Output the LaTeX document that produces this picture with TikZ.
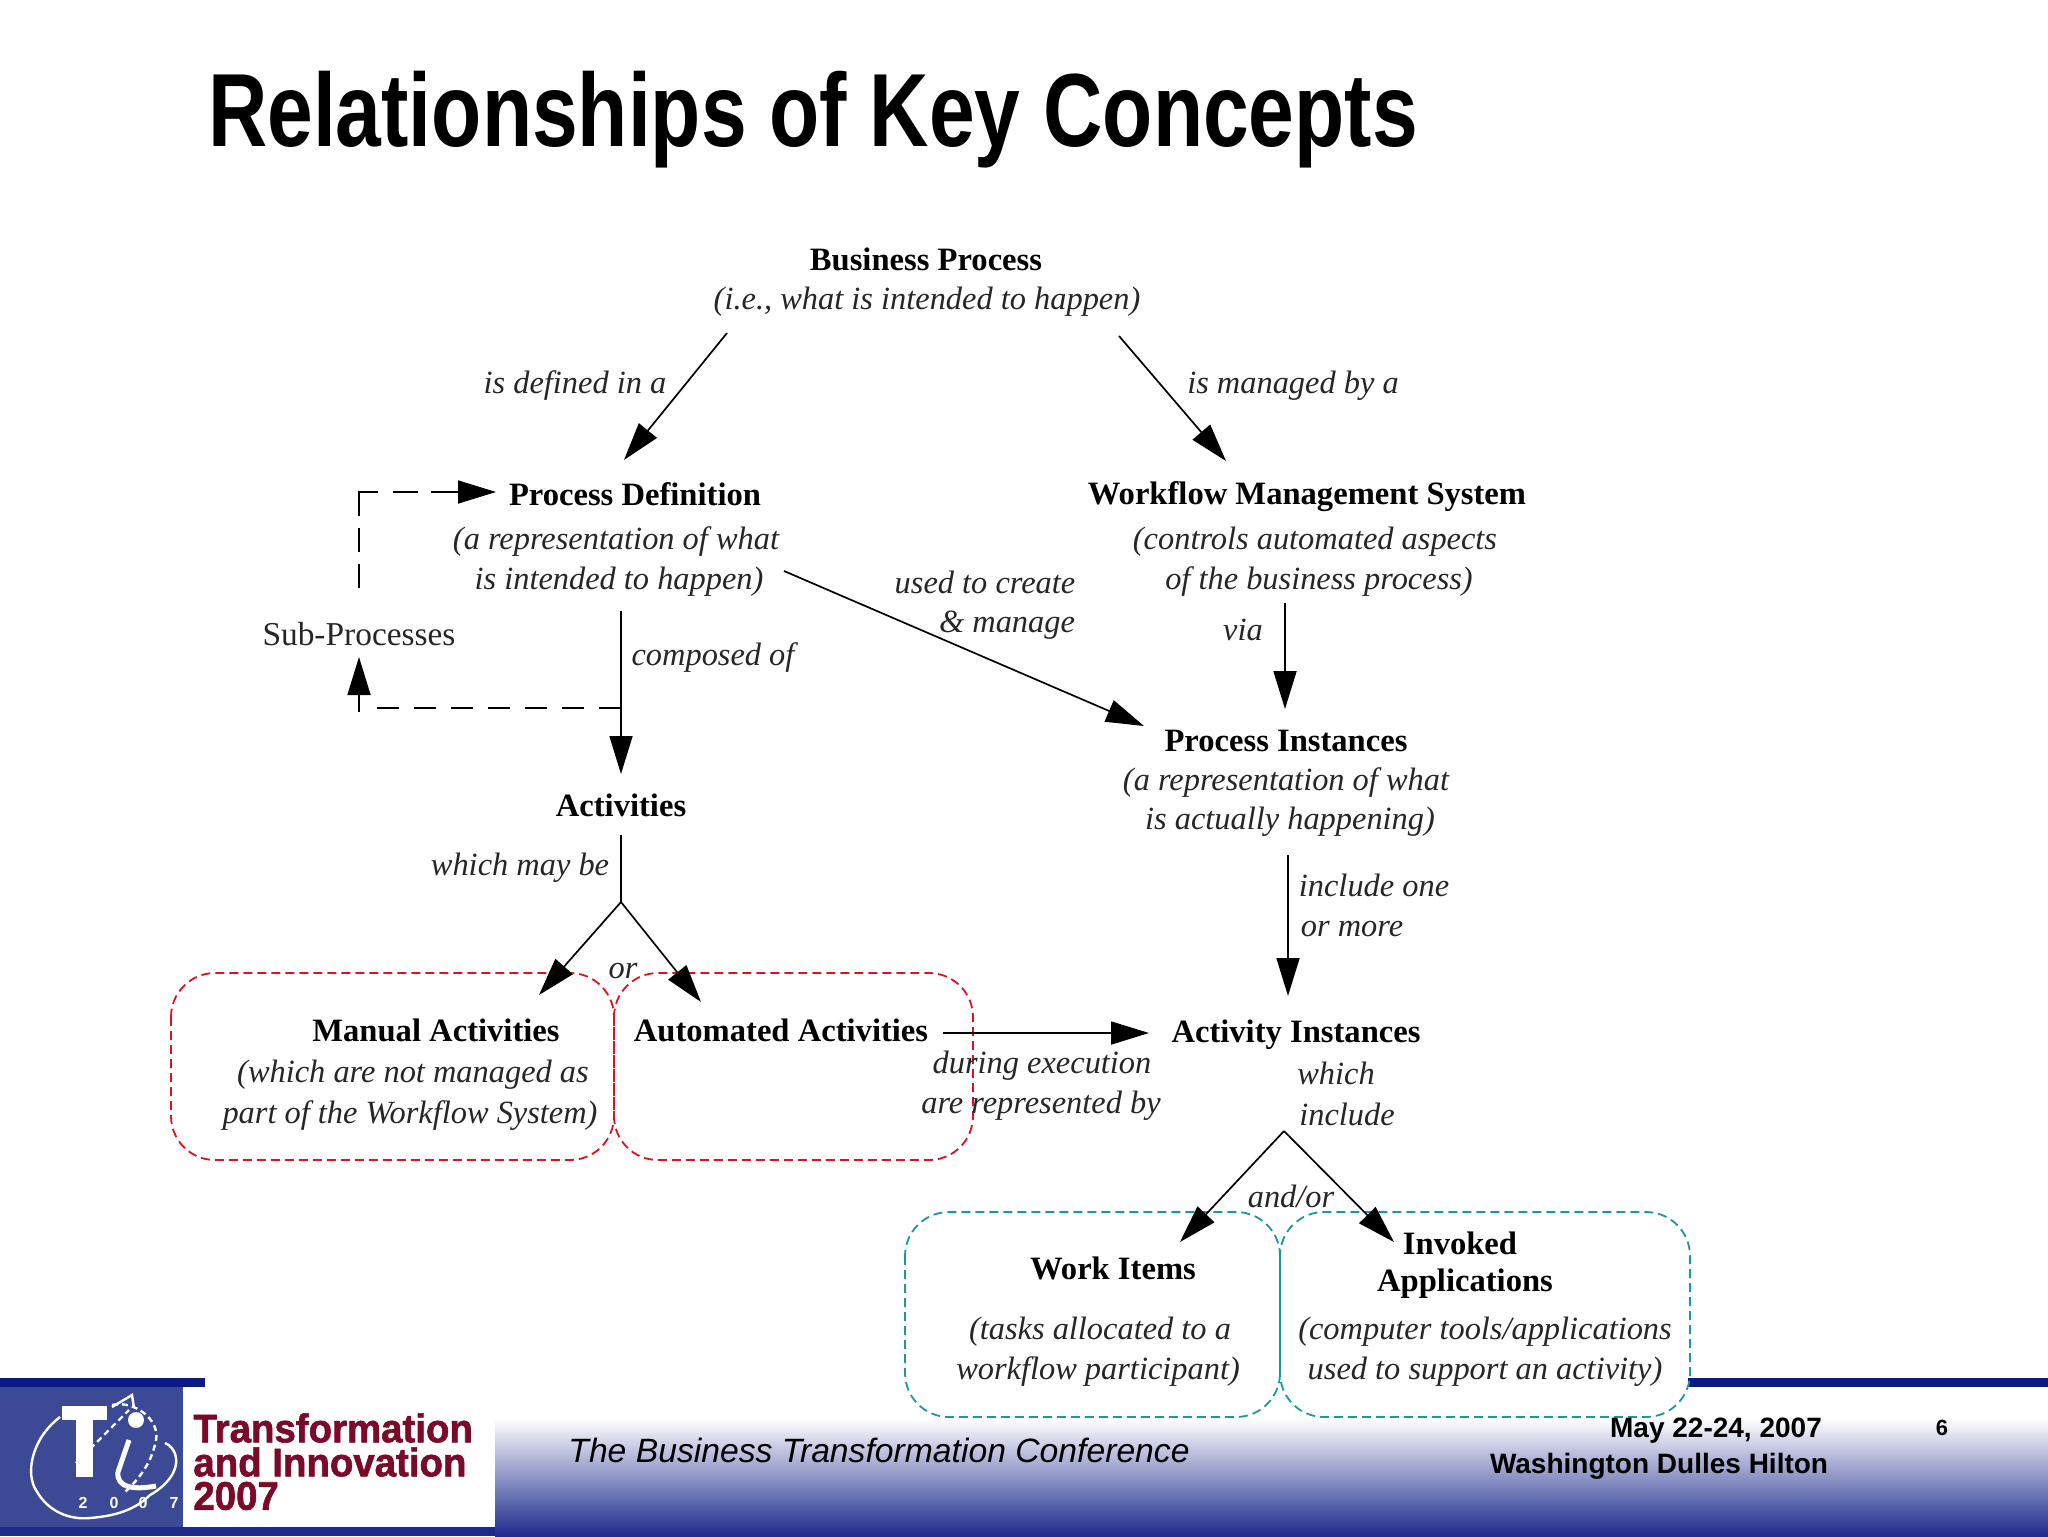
\documentclass[tikz,border=0pt]{standalone}
\usepackage{fontspec}
\usetikzlibrary{arrows.meta}
\setmainfont{Liberation Serif}
\newfontfamily\titlefont[FakeStretch=0.79]{Liberation Sans}
\newfontfamily\footfont{Liberation Sans}
\newfontfamily\logofont[FakeStretch=0.96,FakeBold=1.5]{Liberation Sans}
\definecolor{barblue}{HTML}{0C1A85}
\definecolor{deepblue}{HTML}{1C2A8C}
\definecolor{logoblue}{HTML}{3C4A96}
\definecolor{logored}{HTML}{7A0A28}
\definecolor{tealdash}{HTML}{1A9A94}
\definecolor{reddash}{HTML}{E01020}
\tikzset{
  x=0.5pt,y=-0.5pt,
  txt/.style={inner sep=0pt,font=\fontsize{16.7}{18}\selectfont,text=black!85},
  head/.style={txt,font=\fontsize{16.3}{18}\selectfont\bfseries,text=black},
  note/.style={txt,font=\fontsize{16.2}{18}\selectfont\itshape},
  link/.style={line width=0.85pt,-{Triangle[length=19pt,width=11.5pt]}},
  plain/.style={line width=0.85pt},
  dashlink/.style={line width=1.1pt},
  tealbox/.style={draw=tealdash,line width=0.9pt,dash pattern=on 4.5pt off 2.5pt,rounded corners=22pt},
  redbox/.style={draw=reddash,line width=0.9pt,dash pattern=on 4.5pt off 2.5pt,rounded corners=22pt},
  foot/.style={inner sep=0pt,font=\footfont\fontsize{14}{16}\selectfont\bfseries},
  logotxt/.style={inner sep=0pt,anchor=west,text=logored,font=\logofont\fontsize{20}{22}\selectfont\bfseries},
  logoline/.style={draw=white,line width=1.2pt},
  logonum/.style={inner sep=0pt,text=white,font=\footfont\fontsize{8}{9}\selectfont\bfseries}
}
\begin{document}
\begin{tikzpicture}
\useasboundingbox (0,0) rectangle (2048,1536);
\fill[white] (0,0) rectangle (2048,1536);
% footer band
\shade[top color=white,bottom color=deepblue] (495,1418) rectangle (2048,1536);
\fill[deepblue] (0,1527) rectangle (495,1536);
\fill[barblue] (0,1378) rectangle (205,1387);
\fill[barblue] (1688,1378) rectangle (2048,1387);
\fill[logoblue] (0,1387) rectangle (183,1527);
% logo
\draw[logoline] (60,1417) .. controls (30,1440) and (26,1475) .. (36,1490) .. controls (48,1512) and (70,1520) .. (90,1518) .. controls (115,1516) and (135,1510) .. (150,1495) .. controls (168,1485) and (178,1470) .. (176,1458) .. controls (175,1450) and (170,1445) .. (165,1443);
\draw[logoline,densely dashed] (112,1405) .. controls (135,1400) and (160,1420) .. (156,1440) .. controls (152,1462) and (140,1478) .. (125,1492);
\draw[logoline,densely dashed] (76,1463) -- (129,1410);
\draw[logoline] (112,1407) -- (132,1395) -- (134,1408);
\fill[white] (62,1406) rectangle (107,1420);
\fill[white] (76,1420) rectangle (93,1477);
\fill[white] (136,1420) circle (8);
\draw[white,line width=2.5pt] (129,1440) -- (118,1472) .. controls (116,1488) and (135,1490) .. (156,1486);
\node[logonum] (y1) at (83,1503) {2};
\node[logonum] (y2) at (114,1503) {0};
\node[logonum] (y3) at (143,1503) {0};
\node[logonum] (y4) at (174,1503) {7};
\node[logotxt] (lg1) at (193,1428) {Transformation};
\node[logotxt] (lg2) at (193,1462) {and Innovation};
\node[logotxt] (lg3) at (193,1496) {2007};
% title
\node[inner sep=0pt,font=\titlefont\fontsize{52}{56}\selectfont\bfseries] (title) at (813,120) {Relationships of Key Concepts};
% dashed boxes
\draw[redbox] (171,973) rectangle (614,1160);
\draw[redbox] (614,973) rectangle (973,1160);
\draw[tealbox] (905,1212) rectangle (1280,1417);
\draw[tealbox] (1280,1212) rectangle (1690,1417);
% texts
\node[head] (bp) at (926,259) {Business Process};
\node[note] (bp2) at (927,302) {(i.e., what is intended to happen)};
\node[note] (l1) at (575,386) {is defined in a};
\node[note] (l2) at (1293,386) {is managed by a};
\node[head] (pd) at (635,494) {Process Definition};
\node[note] (pd2) at (616,542) {(a representation of what};
\node[note] (pd3) at (619,582) {is intended to happen)};
\node[head] (wms) at (1307,497) {Workflow Management System};
\node[note] (wms2) at (1315,542) {(controls automated aspects};
\node[note] (wms3) at (1319,582) {of the business process)};
\node[txt] (sub) at (359,634) {Sub-Processes};
\node[note] (l3) at (713,658) {composed of};
\node[note] (l4) at (985,582) {used to create};
\node[note] (l5) at (1007,625) {\& manage};
\node[note] (l6) at (1243,630) {via};
\node[head] (act) at (621,805) {Activities};
\node[note] (l7) at (520,868) {which may be};
\node[head] (pi) at (1286,741) {Process Instances};
\node[note] (pi2) at (1286,783) {(a representation of what};
\node[note] (pi3) at (1290,822) {is actually happening)};
\node[note] (l8) at (1374,885) {include one};
\node[note] (l9) at (1352,929) {or more};
\node[note] (l10) at (623,971) {or};
\node[head] (ma) at (436,1030) {Manual Activities};
\node[note] (ma2) at (413,1075) {(which are not managed as};
\node[note] (ma3) at (410,1116) {part of the Workflow System)};
\node[head] (aa) at (781,1030) {Automated Activities};
\node[head] (ai) at (1296,1035) {Activity Instances};
\node[note] (l11) at (1042,1066) {during execution};
\node[note] (l12) at (1041,1106) {are represented by};
\node[note] (l13) at (1336,1073) {which};
\node[note] (l14) at (1347,1114) {include};
\node[note] (l15) at (1291,1196) {and/or};
\node[head] (wi) at (1113,1268) {Work Items};
\node[head] (ia) at (1460,1243) {Invoked};
\node[head] (ia1) at (1465,1284) {Applications};
\node[note] (wi2) at (1100,1332) {(tasks allocated to a};
\node[note] (wi3) at (1098,1372) {workflow participant)};
\node[note] (ia2) at (1485,1332) {(computer tools/applications};
\node[note] (ia3) at (1485,1372) {used to support an activity)};
% connector ends
\coordinate (a1s) at (727,333); \coordinate (a1e) at (624,460);
\coordinate (a2s) at (1119,336); \coordinate (a2e) at (1226,461);
\coordinate (a3s) at (784,571); \coordinate (a3e) at (1144,726);
\coordinate (a4s) at (1285,603); \coordinate (a4e) at (1285,709);
\coordinate (a5s) at (621,611); \coordinate (a5e) at (621,774);
\coordinate (a6s) at (1288,855); \coordinate (a6e) at (1288,996);
\coordinate (a7s) at (943,1033); \coordinate (a7e) at (1149,1033);
\coordinate (ap1t) at (621,835); \coordinate (ap1) at (621,902);
\coordinate (ap1l) at (539,995); \coordinate (ap1r) at (701,1002);
\coordinate (ap2) at (1284,1131);
\coordinate (ap2l) at (1180,1242); \coordinate (ap2r) at (1394,1242);
\coordinate (d1) at (359,588); \coordinate (d2) at (359,492); \coordinate (d3) at (458,492); \coordinate (d3e) at (496,492);
\coordinate (d4) at (621,708); \coordinate (d5) at (369,708); \coordinate (d6) at (359,657); \coordinate (d7) at (359,712);
% connectors
\draw[link] (a1s) -- (a1e);
\draw[link] (a2s) -- (a2e);
\draw[link] (a3s) -- (a3e);
\draw[link] (a4s) -- (a4e);
\draw[link] (a5s) -- (a5e);
\draw[link] (a6s) -- (a6e);
\draw[link] (a7s) -- (a7e);
\draw[plain] (ap1t) -- (ap1);
\draw[link] (ap1) -- (ap1l);
\draw[link] (ap1) -- (ap1r);
\draw[link] (ap2) -- (ap2l);
\draw[link] (ap2) -- (ap2r);
\draw[dashlink,dash pattern=on 12pt off 6pt on 12pt off 6pt on 21.5pt off 7.5pt on 12.5pt off 6.5pt on 20pt] (d1) -- (d2) -- (d3);
\draw[link] (d3) -- (d3e);
\draw[dashlink,dash pattern=on 11pt off 7.5pt] (d4) -- (d5);
\draw[link] (d7) -- (d6);
% footer text
\node[inner sep=0pt,anchor=west,font=\footfont\fontsize{16.85}{20}\selectfont\itshape] (conf) at (568,1450) {The Business Transformation Conference};
\node[foot] (date) at (1716,1431) {May 22-24, 2007};
\node[foot] (loc) at (1659,1466) {Washington Dulles Hilton};
\node[foot,font=\footfont\fontsize{11}{12}\selectfont\bfseries] (pg) at (1942,1428) {6};
\end{tikzpicture}
\end{document}
